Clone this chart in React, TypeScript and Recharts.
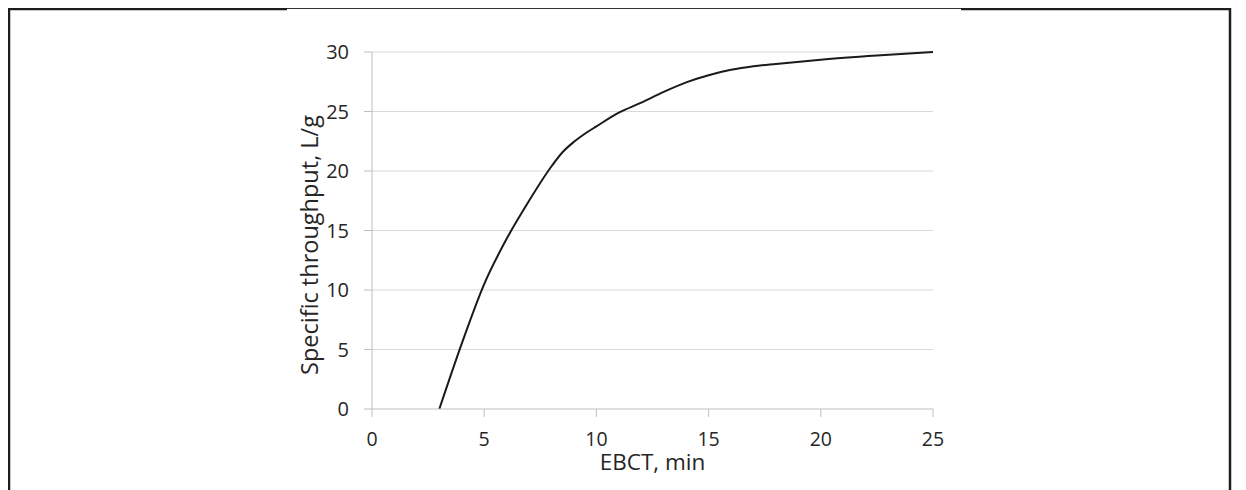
import React from "react";
import { LineChart, Line, XAxis, YAxis, CartesianGrid, Label } from "recharts";

const ebct = [3, 4, 5, 6, 7, 8, 8.5, 9, 9.5, 10, 11, 12, 13, 14, 15, 16, 17, 18, 20, 22.5, 25];
const throughput = [0, 5.5, 10.5, 14.3, 17.5, 20.4, 21.6, 22.45, 23.15, 23.75, 24.9, 25.75, 26.65, 27.45, 28.05, 28.5, 28.8, 29.0, 29.35, 29.7, 30];
const xTicks = [0, 5, 10, 15, 20, 25];
const yTicks = [0, 5, 10, 15, 20, 25, 30];
const xTitle = "EBCT, min";
const yTitle = "Specific throughput, L/g";

const data = ebct.map((x, i) => ({ x, y: throughput[i] }));

const FONT = "'Open Sans', sans-serif";
const TEXT = "#262626";
const AXIS = "#bfbfbf";

const XTitle = (props: any) => {
  const vb = props.viewBox;
  return (
    <text x={vb.x + vb.width / 2} y={vb.y + 61} textAnchor="middle" fontFamily={FONT} fontSize={22.5} fill={TEXT}>
      {xTitle}
    </text>
  );
};

const YTitle = () => {
  const cx = 310;
  const cy = 237;
  return (
    <text x={cx} y={cy} transform={`rotate(-90, ${cx}, ${cy})`} textAnchor="middle" fontFamily={FONT} fontSize={23.5} fill={TEXT}>
      {yTitle}
    </text>
  );
};

export default function App() {
  return (
    <div style={{ position: "relative", width: 1230, height: 482, background: "#fff" }}>
      <style>{"html{overflow:hidden}"}</style>
      <div style={{ position: "absolute", left: 0, top: 0 }}>
        <LineChart width={1230} height={482} data={data} margin={{ top: 44, right: 305, bottom: 0, left: 0 }}>
          <CartesianGrid vertical={false} stroke="#d9d9d9" strokeWidth={1} horizontalValues={[5, 10, 15, 20, 25, 30]} />
          <XAxis
            dataKey="x"
            type="number"
            domain={[0, 25]}
            ticks={xTicks}
            height={81}
            axisLine={{ stroke: AXIS }}
            tickLine={{ stroke: AXIS }}
            tickSize={8}
            tickMargin={15}
            tick={{ fontFamily: FONT, fontSize: 19.5, fill: TEXT }}
            interval={0}
          >
            <Label content={<XTitle />} />
          </XAxis>
          <YAxis
            type="number"
            domain={[0, 30]}
            ticks={yTicks}
            width={364}
            axisLine={{ stroke: AXIS }}
            tickLine={{ stroke: AXIS }}
            tickSize={8}
            tickMargin={15}
            tick={{ fontFamily: FONT, fontSize: 20, fill: TEXT }}
            interval={0}
          >
            <Label content={<YTitle />} />
          </YAxis>
          <Line dataKey="y" type="monotone" stroke="#1a1a1a" strokeWidth={2} dot={false} isAnimationActive={false} />
        </LineChart>
      </div>
      <svg width={1230} height={482} style={{ position: "absolute", left: 0, top: 0, pointerEvents: "none" }}>
        <line x1={1} y1={0} x2={1} y2={482} stroke="#1e1e1e" strokeWidth={2.5} />
        <line x1={0} y1={1} x2={279} y2={1} stroke="#1e1e1e" strokeWidth={2.5} />
        <line x1={279} y1={0.5} x2={953} y2={0.5} stroke="#333" strokeWidth={1} />
        <line x1={953} y1={1} x2={1223} y2={1} stroke="#1e1e1e" strokeWidth={2.5} />
        <line x1={1222} y1={0} x2={1222} y2={482} stroke="#1e1e1e" strokeWidth={2.5} />
      </svg>
    </div>
  );
}
